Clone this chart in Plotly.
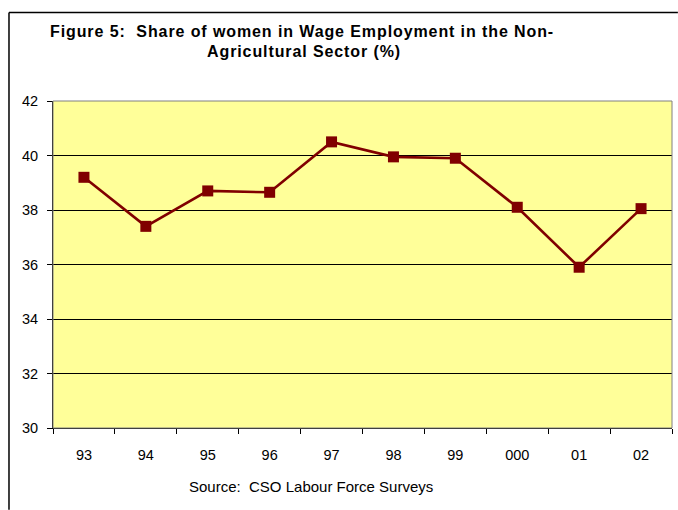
import plotly.graph_objects as go

years = ["93", "94", "95", "96", "97", "98", "99", "000", "01", "02"]
share = [39.2, 37.4, 38.7, 38.65, 40.5, 39.95, 39.9, 38.1, 35.9, 38.05]

title_1 = "Figure 5:  Share of women in Wage Employment in the Non-"
title_2 = "Agricultural Sector (%)"
source = "Source:  CSO Labour Force Surveys"

fig = go.Figure()

fig.add_trace(
    go.Scatter(
        x=years,
        y=share,
        mode="lines+markers",
        line=dict(color="#800000", width=2.6),
        marker=dict(symbol="square", size=11, color="#800000"),
        showlegend=False,
    )
)

# outer chart frame: only left and top edges are inside the picture
fig.add_shape(
    type="line", xref="paper", yref="paper",
    x0=-0.0711, x1=-0.0711, y0=-0.25, y1=1.2706,
    line=dict(color="black", width=1.5),
)
fig.add_shape(
    type="line", xref="paper", yref="paper",
    x0=-0.0711, x1=1.0095, y0=1.2706, y1=1.2706,
    line=dict(color="black", width=1.5),
)

# plot area border (grey)
fig.add_shape(
    type="rect", xref="paper", yref="paper",
    x0=0, x1=1, y0=0, y1=1,
    line=dict(color="#808080", width=1),
)

spaced = '<span style="letter-spacing:0.9px"><b>{}</b></span>'
fig.add_annotation(
    text=spaced.format(title_1),
    xref="paper", yref="paper", x=-0.0081, y=1.214,
    xanchor="left", yanchor="middle", showarrow=False,
    font=dict(family="Liberation Sans, Arial", size=16, color="black"),
)
fig.add_annotation(
    text=spaced.format(title_2),
    xref="paper", yref="paper", x=0.2456, y=1.150,
    xanchor="left", yanchor="middle", showarrow=False,
    font=dict(family="Liberation Sans, Arial", size=16, color="black"),
)
fig.add_annotation(
    text=source,
    xref="paper", yref="paper", x=0.2165, y=-0.1795,
    xanchor="left", yanchor="middle", showarrow=False,
    font=dict(family="Liberation Sans, Arial", size=15, color="black"),
)

fig.update_layout(
    width=678,
    height=510,
    margin=dict(l=53, r=6, t=101, b=82),
    paper_bgcolor="white",
    plot_bgcolor="#FFFF99",
    font=dict(family="Liberation Sans, Arial", size=14.5, color="black"),
    xaxis=dict(
        type="category",
        range=[-0.5, 9.5],
        tickson="boundaries",
        ticks="outside",
        ticklen=5,
        tickcolor="black",
        ticklabelstandoff=14,
        showgrid=False,
        showline=True,
        linecolor="black",
        linewidth=1,
        zeroline=False,
    ),
    yaxis=dict(
        range=[30, 42],
        tickvals=[30, 32, 34, 36, 38, 40, 42],
        ticks="outside",
        ticklen=5,
        tickcolor="black",
        ticklabelstandoff=6,
        showgrid=True,
        gridcolor="black",
        gridwidth=1,
        showline=True,
        linecolor="black",
        linewidth=1,
        zeroline=False,
    ),
)

fig.write_html(
    "out.html",
    config={"displayModeBar": False},
    post_script="document.body.style.margin='0';document.body.style.overflow='hidden';",
)
